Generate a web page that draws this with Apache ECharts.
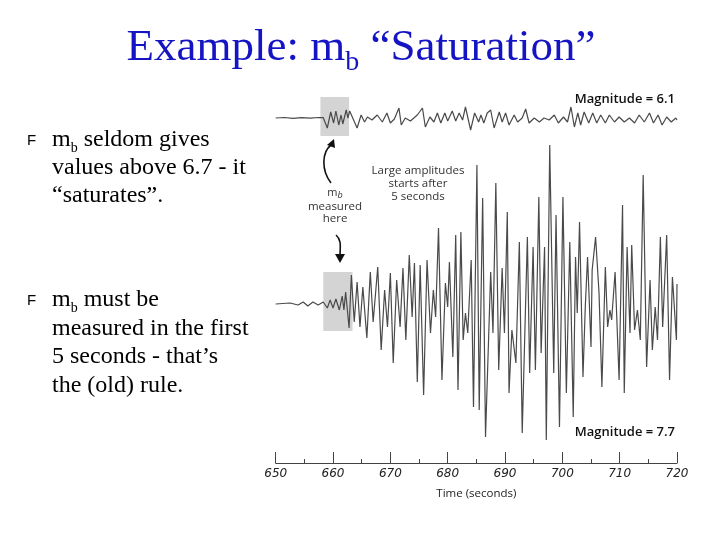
<!DOCTYPE html>
<html>
<head>
<meta charset="utf-8">
<script src="https://cdn.jsdelivr.net/npm/echarts@6/dist/echarts.min.js"></script>
<style>
html,body{margin:0;padding:0;background:#fff;}
#chart{width:720px;height:540px;}
</style>
</head>
<body>
<div id="chart"></div>
<script>
// ---- data ----
// time axis (seconds)
var timeTicks = [650, 660, 670, 680, 690, 700, 710, 720];
// window in which mb is measured: [start s, end s]
var mbWindowTop = [657.8, 662.8];
var mbWindowBottom = [658.3, 663.4];
// amplitude extent of the shaded windows (trace units)
var mbBoxTop = [21, -18];
var mbBoxBottom = [32, -27];
// Magnitude 6.1 trace: [time s, amplitude]
var traceM61 = [
  [650.0,0],[651.5,0.5],[653.0,-0.3],[654.5,0.4],[656.0,-0.2],[657.5,0.5],[658.3,0.3],[659.0,-10],[659.6,6],[660.1,-5],
  [660.5,7],[661.0,-7],[661.4,3],[661.7,-6],[662.3,8],[662.6,0],[662.9,7],[664.2,-10],[664.9,3],[665.5,-4],
  [666.0,1],[666.8,-2],[667.7,3],[668.6,-4],[669.4,5],[670.0,-5],[670.7,-1],[671.5,10],[671.9,-7],[672.6,0],
  [673.5,-3],[674.7,3],[675.6,10],[676.1,-9],[676.9,1],[677.6,-4],[678.2,5],[678.8,-5],[679.5,5],[680.0,-3],
  [680.8,7],[681.4,-3],[682.0,5],[682.6,-2],[683.1,11],[684.0,-12],[684.7,5],[685.4,-4],[685.8,3],[686.3,-5],
  [686.9,5],[687.5,8],[688.1,-10],[689.0,6],[689.5,-4],[690.1,5],[690.7,-7],[691.6,3],[692.2,-4],[693.0,0],
  [693.6,9],[694.2,-5],[695.1,0],[696.0,-4],[696.8,0],[697.7,-2],[698.6,3],[699.3,-5],[700.2,1],[700.9,-4],
  [701.5,11],[702.1,-9],[702.7,5],[703.2,-7],[703.8,6],[704.6,-5],[705.3,5],[706.0,-5],[706.7,3],[707.5,-5],
  [708.2,3],[709.1,-4],[709.9,1],[710.8,-4],[711.7,0],[712.6,-5],[713.4,3],[714.3,-4],[715.2,5],[715.9,-5],
  [716.7,3],[717.4,-7],[718.2,1],[719.0,-4],[719.8,0],[720.0,-2]
];
// Magnitude 7.7 trace: [time s, amplitude]
var traceM77 = [
  [650.0,0],[652.5,1],[653.9,-1],[654.8,2],[655.6,-2],[656.5,2],[657.4,-1],[658.3,2],[659.0,-4],[659.5,4],
  [660.0,-4],[660.5,5],[661.1,-6],[661.6,8],[661.9,-6],[662.2,12],[662.8,-24],[663.2,29],[663.7,-18],[664.2,22],
  [664.7,-23],[665.2,17],[665.9,-34],[666.5,32],[667.0,-18],[667.8,37],[668.4,-46],[669.0,14],[669.5,-23],[670.0,31],
  [670.5,-59],[671.1,24],[671.7,-23],[672.2,36],[672.7,-36],[673.3,49],[673.8,-13],[674.2,41],[674.7,-78],[675.2,39],
  [675.8,-91],[676.4,44],[677.0,-29],[677.5,14],[677.9,-13],[678.4,76],[679.0,-76],[679.6,21],[680.0,-3],[680.3,42],
  [680.9,-53],[681.4,69],[681.8,-86],[682.3,72],[682.7,-36],[683.1,-9],[683.5,-29],[684.1,44],[684.5,-103],[685.1,139],
  [685.5,-106],[686.1,106],[686.6,-133],[687.5,32],[687.9,-29],[688.4,121],[688.9,-66],[689.5,36],[689.9,-29],[690.4,92],
  [690.7,-89],[691.2,-26],[691.9,-59],[692.5,62],[693.0,-129],[693.9,67],[694.3,-69],[694.9,57],[695.3,-66],[695.9,107],
  [696.3,-49],[696.9,57],[697.2,-136],[697.8,159],[698.5,-69],[698.9,89],[699.5,-123],[700.1,107],[700.7,-89],[701.3,62],
  [701.9,-113],[702.3,47],[702.6,-9],[703.0,82],[703.6,-73],[704.0,-3],[704.4,47],[705.0,-43],[705.2,34],[705.8,67],
  [706.4,11],[706.9,-83],[707.5,37],[707.9,-23],[708.3,-6],[708.6,-16],[709.2,32],[709.9,-76],[710.5,99],[710.8,-89],
  [711.3,57],[711.8,-29],[712.1,59],[712.6,-26],[713.1,-6],[713.6,-36],[714.1,129],[714.7,-63],[715.3,24],[715.7,-46],
  [716.2,-3],[716.6,-36],[717.1,67],[717.5,-23],[718.2,69],[718.7,-76],[719.2,27],[719.9,-36],[720.0,20]
];
var magTop = 'Magnitude = 6.1';
var magBottom = 'Magnitude = 7.7';
var bullet1 = [['m', 'b', ' seldom gives'], ['values above 6.7 - it'], ['“saturates”.']];
var bullet2 = [['m', 'b', ' must be'], ['measured in the first'], ['5 seconds - that’s'], ['the (old) rule.']];
var noteLarge = ['Large amplitudes', 'starts after', '5 seconds'];
var noteMb = ['measured', 'here'];

// ---- chart ----
var chart = echarts.init(document.getElementById('chart'), null, {renderer: 'canvas'});
var serif = '"Liberation Serif", "Times New Roman", serif';
var hand = '"Open Sans", "DejaVu Sans", sans-serif';

function lineText(parts, x, y) {
  var txt = parts.length === 3 ? '{a|' + parts[0] + '}{s|' + parts[1] + '}{a|' + parts[2] + '}' : '{a|' + parts[0] + '}';
  return {
    type: 'text', x: x, y: y,
    style: {
      text: txt, fill: '#000', align: 'left', verticalAlign: 'middle',
      rich: {
        a: {fontFamily: serif, fontSize: 24, lineHeight: 30, verticalAlign: 'middle', fill: '#000'},
        s: {fontFamily: serif, fontSize: 14, verticalAlign: 'bottom', fill: '#000'}
      }
    }
  };
}

var graphics = [];
// title
graphics.push({
  type: 'text', x: 361, y: 48,
  style: {
    text: '{a|Example: m}{s|b}{a| “Saturation”}', align: 'center', verticalAlign: 'middle',
    rich: {
      a: {fontFamily: serif, fontSize: 45, lineHeight: 57, verticalAlign: 'middle', fill: '#1414c4'},
      s: {fontFamily: serif, fontSize: 28, verticalAlign: 'bottom', fill: '#1414c4'}
    }
  }
});
// bullets
var b1y = [140, 168, 196], b2y = [300, 329, 357, 386];
graphics.push({type: 'text', x: 27, y: 141, style: {text: 'F', font: '15px "Liberation Sans", Arial, sans-serif', fill: '#000', verticalAlign: 'middle'}});
graphics.push({type: 'text', x: 27, y: 301, style: {text: 'F', font: '15px "Liberation Sans", Arial, sans-serif', fill: '#000', verticalAlign: 'middle'}});
bullet1.forEach(function (p, i) { graphics.push(lineText(p, 52, b1y[i])); });
bullet2.forEach(function (p, i) { graphics.push(lineText(p, 52, b2y[i])); });
// magnitude labels
graphics.push({type: 'text', x: 675, y: 99, style: {text: magTop, font: '600 13px ' + hand, fill: '#111', align: 'right', verticalAlign: 'middle'}});
graphics.push({type: 'text', x: 675, y: 432, style: {text: magBottom, font: '600 13px ' + hand, fill: '#111', align: 'right', verticalAlign: 'middle'}});
// annotations
var lly = [171, 184, 197];
noteLarge.forEach(function (t, i) {
  graphics.push({type: 'text', x: 418, y: lly[i], style: {text: t, font: '11.5px ' + hand, fill: '#333', align: 'center', verticalAlign: 'middle'}});
});
graphics.push({type: 'text', x: 335, y: 193, style: {text: '{m|m}{s|b}', align: 'center', verticalAlign: 'middle',
  rich: {m: {font: '11px ' + hand, fill: '#333', lineHeight: 14, verticalAlign: 'middle'}, s: {font: 'italic 9px ' + hand, fill: '#333', verticalAlign: 'bottom'}}}});
graphics.push({type: 'text', x: 335, y: 207, style: {text: noteMb[0], font: '11.5px ' + hand, fill: '#333', align: 'center', verticalAlign: 'middle'}});
graphics.push({type: 'text', x: 335, y: 219, style: {text: noteMb[1], font: '11.5px ' + hand, fill: '#333', align: 'center', verticalAlign: 'middle'}});
// arrows
graphics.push({type: 'bezierCurve', shape: {x1: 331, y1: 183, cpx1: 321, cpy1: 170, cpx2: 322, cpy2: 152, x2: 331, y2: 145}, style: {stroke: '#111', lineWidth: 1.6, fill: null}});
graphics.push({type: 'polygon', shape: {points: [[334, 139], [327, 145], [335, 148]]}, style: {fill: '#111'}});
graphics.push({type: 'bezierCurve', shape: {x1: 336, y1: 235, cpx1: 342, cpy1: 240, cpx2: 340, cpy2: 248, x2: 340, y2: 256}, style: {stroke: '#111', lineWidth: 1.6, fill: null}});
graphics.push({type: 'polygon', shape: {points: [[340, 263], [335, 254], [345, 254]]}, style: {fill: '#111'}});

var traceStyle = {color: '#4a4a4a', width: 1.2};
var option = {
  backgroundColor: '#fff',
  animation: false,
  grid: [
    {left: 275.7, right: 43, top: 88, height: 60},
    {left: 275.7, right: 43, top: 134, height: 329}
  ],
  xAxis: [
    {gridIndex: 0, type: 'value', min: timeTicks[0], max: timeTicks[timeTicks.length - 1], show: false},
    {gridIndex: 1, type: 'value', min: timeTicks[0], max: timeTicks[timeTicks.length - 1], interval: 10,
      name: 'Time (seconds)', nameLocation: 'middle', nameGap: 25,
      nameTextStyle: {fontFamily: hand, fontSize: 11.5, color: '#222'},
      axisLine: {show: true, onZero: false, lineStyle: {color: '#444', width: 1}},
      axisTick: {show: true, inside: true, length: 11, lineStyle: {color: '#444'}},
      minorTick: {show: true, splitNumber: 2, length: 4, lineStyle: {color: '#444'}},
      splitLine: {show: false},
      axisLabel: {margin: 5, fontFamily: '"DejaVu Sans", sans-serif', fontStyle: 'italic', fontSize: 12, color: '#222'}
    }
  ],
  yAxis: [
    {gridIndex: 0, type: 'value', min: -30, max: 30, show: false},
    {gridIndex: 1, type: 'value', min: -159, max: 170, show: false}
  ],
  series: [
    {type: 'line', xAxisIndex: 0, yAxisIndex: 0, data: traceM61, showSymbol: false, lineStyle: traceStyle,
      markArea: {silent: true, itemStyle: {color: '#d4d4d4'},
        data: [[{xAxis: mbWindowTop[0], yAxis: mbBoxTop[0]}, {xAxis: mbWindowTop[1], yAxis: mbBoxTop[1]}]]}},
    {type: 'line', xAxisIndex: 1, yAxisIndex: 1, data: traceM77, showSymbol: false, lineStyle: traceStyle,
      markArea: {silent: true, itemStyle: {color: '#d4d4d4'},
        data: [[{xAxis: mbWindowBottom[0], yAxis: mbBoxBottom[0]}, {xAxis: mbWindowBottom[1], yAxis: mbBoxBottom[1]}]]}}
  ],
  graphic: graphics
};
chart.setOption(option);
</script>
</body>
</html>
